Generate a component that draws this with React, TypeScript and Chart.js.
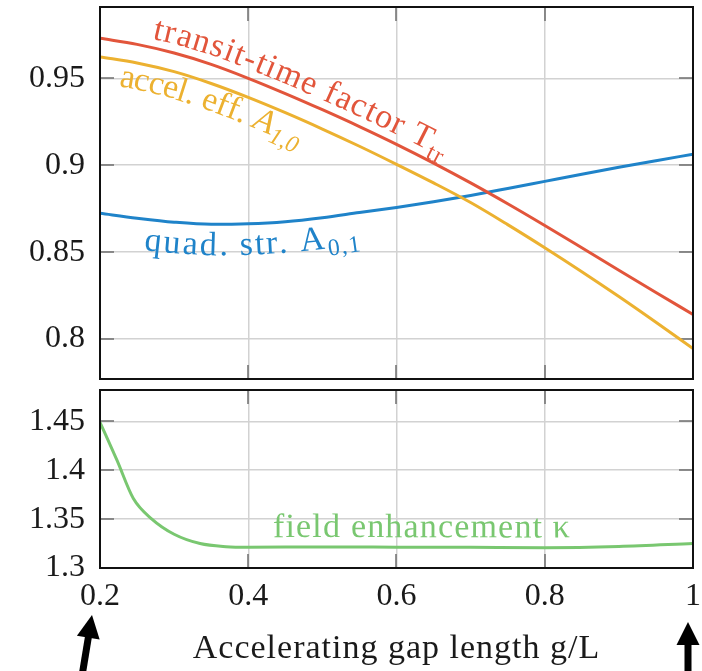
import React, { useEffect, useRef } from 'react';
import { Chart, registerables } from 'chart.js';

Chart.register(...registerables);

// ---------- data ----------
const gapLength = [0.2, 0.25, 0.3, 0.35, 0.4, 0.45, 0.5, 0.55, 0.6, 0.65, 0.7, 0.75, 0.8, 0.85, 0.9, 0.95, 1.0];
const transitTimeFactor = [0.973, 0.9695, 0.9645, 0.958, 0.95, 0.9412, 0.9319, 0.9222, 0.912, 0.9012, 0.8898, 0.8778, 0.8653, 0.8525, 0.8396, 0.8268, 0.8141];
const accelEfficiency = [0.9623, 0.9588, 0.9538, 0.947, 0.939, 0.9302, 0.9208, 0.9109, 0.9005, 0.8898, 0.8785, 0.8658, 0.8525, 0.8387, 0.8244, 0.8096, 0.7945];
const quadStrength = [0.8723, 0.8695, 0.8672, 0.866, 0.8663, 0.8675, 0.8698, 0.8728, 0.8757, 0.879, 0.8826, 0.8866, 0.8907, 0.8948, 0.8988, 0.9026, 0.9063];

const enhGapLength = [0.2, 0.223, 0.245, 0.27, 0.3, 0.335, 0.37, 0.4, 0.5, 0.6, 0.7, 0.8, 0.9, 1.0];
const fieldEnhancement = [1.449, 1.41, 1.371, 1.35, 1.3345, 1.325, 1.3218, 1.3212, 1.3215, 1.3213, 1.3211, 1.3208, 1.322, 1.325];

const xTickValues = [0.2, 0.4, 0.6, 0.8, 1.0];
const xTickLabels = ['0.2', '0.4', '0.6', '0.8', '1'];
const topTickValues = [0.8, 0.85, 0.9, 0.95];
const topTickLabels = ['0.8', '0.85', '0.9', '0.95'];
const bottomTickValues = [1.3, 1.35, 1.4, 1.45];
const bottomTickLabels = ['1.3', '1.35', '1.4', '1.45'];

const xTitle = 'Accelerating gap length g/L';

// ---------- styles ----------
const RED = '#E2553B';
const ORANGE = '#ECB130';
const BLUE = '#1F83C9';
const GREEN = '#79C770';
const GRID = '#d2d2d2';
const TICKMARK = '#6e6e6e';
const FRAME = '#111111';
const FONT = '"Liberation Serif", "Times New Roman", serif';
const TEXT = '#1a1a1a';

type Part = { text: string; italic?: boolean; sub?: boolean };
type CurveLabel = { dataset: number; parts: Part[]; from: number; to: number; offset: number; color: string };

const topLabels: CurveLabel[] = [
  { dataset: 0, parts: [{ text: 'transit-time factor T' }, { text: 'tr', sub: true }], from: 0.2675, to: 0.656, offset: -9, color: RED },
  { dataset: 1, parts: [{ text: 'accel. eff. ' }, { text: 'A', italic: true }, { text: '1,0', italic: true, sub: true }], from: 0.231, to: 0.4806, offset: 26, color: ORANGE },
  { dataset: 2, parts: [{ text: 'quad. str. A' }, { text: '0,1', sub: true }], from: 0.2634, to: 0.5454, offset: 31, color: BLUE },
];
const bottomLabels: CurveLabel[] = [
  { dataset: 0, parts: [{ text: 'field enhancement κ' }], from: 0.4334, to: 0.834, offset: -10, color: GREEN },
];

function pathTools(pts: { x: number; y: number }[]) {
  const cum = [0];
  for (let i = 1; i < pts.length; i++) cum.push(cum[i - 1] + Math.hypot(pts[i].x - pts[i - 1].x, pts[i].y - pts[i - 1].y));
  const at = (s: number) => {
    let i = 0;
    while (i < pts.length - 2 && cum[i + 1] < s) i++;
    const L = cum[i + 1] - cum[i] || 1;
    const t = (s - cum[i]) / L;
    return { x: pts[i].x + t * (pts[i + 1].x - pts[i].x), y: pts[i].y + t * (pts[i + 1].y - pts[i].y) };
  };
  const arcAtX = (px: number) => {
    let i = 0;
    while (i < pts.length - 2 && pts[i + 1].x < px) i++;
    const t = (px - pts[i].x) / (pts[i + 1].x - pts[i].x);
    return cum[i] + t * (cum[i + 1] - cum[i]);
  };
  return { at, arcAtX };
}

function drawCurveLabel(chart: any, label: CurveLabel, size: number) {
  const ctx = chart.ctx as CanvasRenderingContext2D;
  const meta = chart.getDatasetMeta(label.dataset);
  const pts = meta.data.map((p: any) => ({ x: p.x, y: p.y }));
  const { at, arcAtX } = pathTools(pts);
  const xs = chart.scales.x;
  const s0 = arcAtX(xs.getPixelForValue(label.from));
  const s1 = arcAtX(xs.getPixelForValue(label.to));
  ctx.save();
  ctx.fillStyle = label.color;
  ctx.textAlign = 'center';
  ctx.textBaseline = 'alphabetic';
  const glyphs: { ch: string; font: string; w: number; dy: number }[] = [];
  for (const part of label.parts) {
    const sz = part.sub ? size * 0.7 : size;
    const font = `${part.italic ? 'italic ' : ''}${sz}px ${FONT}`;
    ctx.font = font;
    for (const ch of Array.from(part.text)) {
      glyphs.push({ ch, font, w: ctx.measureText(ch).width, dy: part.sub ? size * 0.22 : 0 });
    }
  }
  const natural = glyphs.reduce((a, g) => a + g.w, 0);
  const gap = glyphs.length > 1 ? (s1 - s0 - natural) / (glyphs.length - 1) : 0;
  let s = s0;
  for (const g of glyphs) {
    const a = at(s);
    const b = at(s + Math.max(g.w, 4));
    const ang = Math.atan2(b.y - a.y, b.x - a.x);
    const m = at(s + g.w / 2);
    const nx = -Math.sin(ang);
    const ny = Math.cos(ang);
    ctx.save();
    ctx.translate(m.x + nx * label.offset, m.y + ny * label.offset);
    ctx.rotate(ang);
    ctx.font = g.font;
    ctx.fillText(g.ch, 0, g.dy);
    ctx.restore();
    s += g.w + gap;
  }
  ctx.restore();
}

function drawArrow(ctx: CanvasRenderingContext2D, x0: number, y0: number, x1: number, y1: number) {
  const shaft = 7, headW = 23, headL = 23;
  const ang = Math.atan2(y1 - y0, x1 - x0);
  const len = Math.hypot(x1 - x0, y1 - y0);
  ctx.save();
  ctx.translate(x0, y0);
  ctx.rotate(ang);
  ctx.fillStyle = '#000';
  ctx.fillRect(0, -shaft / 2, len - headL + 1, shaft);
  ctx.beginPath();
  ctx.moveTo(len, 0);
  ctx.lineTo(len - headL, -headW / 2);
  ctx.lineTo(len - headL, headW / 2);
  ctx.closePath();
  ctx.fill();
  ctx.restore();
}

function makeFramePlugin(labels: CurveLabel[], isBottom: boolean) {
  return {
    id: 'frameAndLabels' + (isBottom ? 'B' : 'T'),
    beforeDatasetsDraw(chart: any) {
      const ctx = chart.ctx as CanvasRenderingContext2D;
      const { left, right, top, bottom } = chart.chartArea;
      const xs = chart.scales.x, ys = chart.scales.y;
      const L = 14;
      ctx.save();
      ctx.strokeStyle = TICKMARK;
      ctx.lineWidth = 1.5;
      ctx.beginPath();
      for (const v of xTickValues) {
        const px = Math.round(xs.getPixelForValue(v));
        if (px <= left + 1 || px >= right - 1) continue;
        ctx.moveTo(px, top); ctx.lineTo(px, top + L);
        ctx.moveTo(px, bottom); ctx.lineTo(px, bottom - L);
      }
      const yv = isBottom ? bottomTickValues : topTickValues;
      for (const v of yv) {
        const py = Math.round(ys.getPixelForValue(v));
        if (py <= top + 1 || py >= bottom - 1) continue;
        ctx.moveTo(left, py); ctx.lineTo(left + L, py);
        ctx.moveTo(right, py); ctx.lineTo(right - L, py);
      }
      ctx.stroke();
      ctx.restore();
    },
    afterDatasetsDraw(chart: any) {
      const ctx = chart.ctx as CanvasRenderingContext2D;
      const { left, right, top, bottom } = chart.chartArea;
      for (const lab of labels) drawCurveLabel(chart, lab, 34);
      ctx.save();
      ctx.strokeStyle = FRAME;
      ctx.lineWidth = 2;
      ctx.strokeRect(left, top, right - left, bottom - top);
      ctx.restore();
      if (isBottom) {
        const xs = chart.scales.x;
        ctx.save();
        ctx.fillStyle = TEXT;
        ctx.font = `34px ${FONT}`;
        (ctx as any).letterSpacing = '1px';
        ctx.textAlign = 'center';
        ctx.textBaseline = 'alphabetic';
        ctx.fillText(xTitle, (left + right) / 2, 658);
        ctx.restore();
        const p0 = xs.getPixelForValue(xTickValues[0]);
        const p1 = xs.getPixelForValue(xTickValues[xTickValues.length - 1]);
        drawArrow(ctx, p0 - 18, 676, p0 - 8, 615);
        drawArrow(ctx, p1 - 5, 676, p1 - 5, 622);
      }
    },
  };
}

function baseLine(color: string, xs: number[], ys: number[]) {
  return {
    data: xs.map((x, i) => ({ x, y: ys[i] })),
    borderColor: color,
    borderWidth: 3,
    pointRadius: 0,
    fill: false,
    cubicInterpolationMode: 'monotone' as const,
  };
}

const zeroPad = (s: any) => {
  s.paddingTop = 0; s.paddingBottom = 0; s.paddingLeft = 0; s.paddingRight = 0;
};

export default function App() {
  const topRef = useRef<HTMLCanvasElement>(null);
  const botRef = useRef<HTMLCanvasElement>(null);

  useEffect(() => {
    document.body.style.margin = '0';
    const grid = { color: GRID, lineWidth: 1.5, drawTicks: false };
    const tickFont = { family: FONT, size: 32 };

    const top = new Chart(topRef.current!, {
      type: 'line',
      data: {
        datasets: [
          baseLine(RED, gapLength, transitTimeFactor),
          baseLine(ORANGE, gapLength, accelEfficiency),
          baseLine(BLUE, gapLength, quadStrength),
        ] as any,
      },
      options: {
        animation: false,
        responsive: false,
        events: [],
        layout: { padding: { left: 0, right: 9, top: 7, bottom: 292 } },
        plugins: { legend: { display: false }, tooltip: { enabled: false } },
        scales: {
          x: {
            type: 'linear', min: 0.2, max: 1.0,
            afterBuildTicks: (s: any) => { s.ticks = xTickValues.map((v) => ({ value: v })); },
            ticks: { display: false },
            grid,
            border: { display: false },
            afterFit: (s: any) => { s.height = 0; zeroPad(s); },
          },
          y: {
            type: 'linear', min: 0.777, max: 0.991,
            afterBuildTicks: (s: any) => { s.ticks = topTickValues.map((v) => ({ value: v })); },
            ticks: { font: tickFont, color: TEXT, padding: 15, autoSkip: false, callback: (_v: any, i: number) => topTickLabels[i] },
            grid,
            border: { display: false },
            afterFit: (s: any) => { s.width = 100; zeroPad(s); },
          },
        },
      } as any,
      plugins: [makeFramePlugin(topLabels, false)],
    });

    const bot = new Chart(botRef.current!, {
      type: 'line',
      data: {
        datasets: [baseLine(GREEN, enhGapLength, fieldEnhancement)] as any,
      },
      options: {
        animation: false,
        responsive: false,
        events: [],
        layout: { padding: { left: 0, right: 9, top: 390, bottom: 0 } },
        plugins: { legend: { display: false }, tooltip: { enabled: false } },
        scales: {
          x: {
            type: 'linear', min: 0.2, max: 1.0,
            afterBuildTicks: (s: any) => { s.ticks = xTickValues.map((v) => ({ value: v })); },
            ticks: { font: tickFont, color: TEXT, padding: 9, autoSkip: false, maxRotation: 0, callback: (_v: any, i: number) => xTickLabels[i] },
            grid,
            border: { display: false },
            afterFit: (s: any) => { s.height = 103; zeroPad(s); },
          },
          y: {
            type: 'linear', min: 1.3, max: 1.482,
            afterBuildTicks: (s: any) => { s.ticks = bottomTickValues.map((v) => ({ value: v })); },
            ticks: { font: tickFont, color: TEXT, padding: 15, autoSkip: false, callback: (_v: any, i: number) => bottomTickLabels[i] },
            grid,
            border: { display: false },
            afterFit: (s: any) => { s.width = 100; zeroPad(s); },
          },
        },
      } as any,
      plugins: [makeFramePlugin(bottomLabels, true)],
    });

    return () => {
      top.destroy();
      bot.destroy();
    };
  }, []);

  return (
    <div style={{ position: 'fixed', left: 0, top: 0, width: 702, height: 671, background: '#fff', overflow: 'hidden' }}>
      <canvas ref={botRef} width={702} height={671} style={{ position: 'absolute', left: 0, top: 0 }} />
      <canvas ref={topRef} width={702} height={671} style={{ position: 'absolute', left: 0, top: 0 }} />
    </div>
  );
}
